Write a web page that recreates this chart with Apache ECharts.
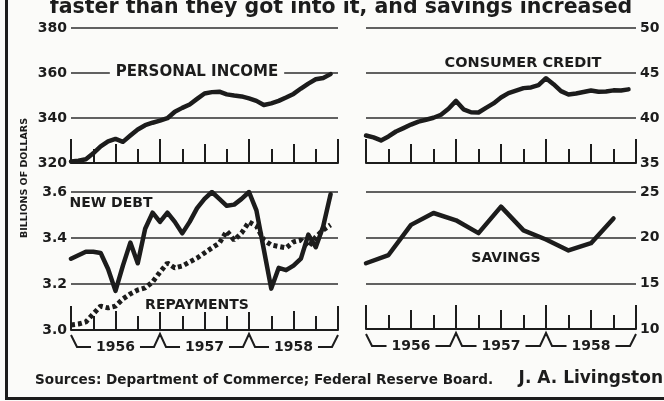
<!DOCTYPE html>
<html>
<head>
<meta charset="utf-8">
<script src="https://cdn.jsdelivr.net/npm/echarts@6/dist/echarts.min.js"></script>
<style>
  html, body { margin: 0; padding: 0; background: #fbfbf9; }
  #chart { width: 664px; height: 401px; }
</style>
</head>
<body>
<div id="chart"></div>
<script>
// monthly values, Jan 1956 .. Dec 1958 (billions of dollars)
const years = ['1956', '1957', '1958'];
const personalIncome = [320.7, 321.0, 321.7, 324.3, 327.4, 329.6, 330.7, 329.4, 332.2, 334.9, 336.8, 337.9,
  338.8, 339.9, 342.8, 344.5, 346.0, 348.5, 350.9, 351.5, 351.7, 350.5, 350.0, 349.6,
  348.7, 347.6, 345.8, 346.5, 347.6, 349.1, 350.7, 353.1, 355.3, 357.2, 357.8, 359.5];
const consumerCredit = [38.06, 37.84, 37.51, 37.95, 38.5, 38.88, 39.27, 39.6, 39.81, 40.03, 40.36, 41.02,
  41.9, 40.96, 40.64, 40.61, 41.13, 41.62, 42.28, 42.77, 43.05, 43.32, 43.4, 43.65,
  44.42, 43.76, 42.99, 42.61, 42.72, 42.88, 43.05, 42.92, 42.94, 43.07, 43.05, 43.18];
const newDebt = [3.31, 3.325, 3.34, 3.34, 3.335, 3.265, 3.17, 3.28, 3.38, 3.29, 3.44, 3.51,
  3.47, 3.51, 3.47, 3.42, 3.47, 3.53, 3.57, 3.60, 3.57, 3.54, 3.545, 3.57,
  3.60, 3.52, 3.35, 3.18, 3.27, 3.26, 3.28, 3.31, 3.415, 3.36, 3.45, 3.59];
const repayments = [3.022, 3.026, 3.035, 3.07, 3.104, 3.096, 3.104, 3.135, 3.157, 3.174, 3.183, 3.209,
  3.252, 3.291, 3.27, 3.278, 3.296, 3.313, 3.335, 3.357, 3.378, 3.43, 3.391, 3.422,
  3.47, 3.452, 3.391, 3.37, 3.363, 3.357, 3.383, 3.391, 3.361, 3.404, 3.435, 3.457];
// quarterly
const savings = [17.2, 18.1, 21.4, 22.7, 21.9, 20.5, 23.4, 20.8, 19.8, 18.6, 19.4, 22.1];

const INK = '#1c1c1c';
const BG = '#fbfbf9';
const FONT = 'DejaVu Sans';

const chart = echarts.init(document.getElementById('chart'));

const grids = [
  { left: 71, top: 28, width: 267, height: 135 },
  { left: 366, top: 28, width: 270, height: 135 },
  { left: 71, top: 192, width: 267, height: 138 },
  { left: 366, top: 192, width: 270, height: 137 }
];

// y scales per panel
const yScales = [
  { min: 320, max: 380, interval: 20, position: 'left' },
  { min: 35, max: 50, interval: 5, position: 'right' },
  { min: 3.0, max: 3.6, interval: 0.2, position: 'left', digits: 1 },
  { min: 10, max: 25, interval: 5, position: 'right' }
];

const xAxes = [];
grids.forEach((g, i) => {
  // year and quarter ticks
  xAxes.push({
    gridIndex: i, type: 'value', min: 0, max: 12, interval: 4, position: 'bottom',
    axisLine: { lineStyle: { color: INK, width: 2 } },
    axisTick: { inside: true, length: 24, lineStyle: { color: INK, width: 2 } },
    minorTick: { show: true, splitNumber: 4, length: 14, lineStyle: { color: INK, width: 2 } },
    axisLabel: { show: false },
    splitLine: { show: false }
  });
  // mid-year ticks
  xAxes.push({
    gridIndex: i, type: 'value', min: 0, max: 12, interval: 2, position: 'bottom',
    axisLine: { show: false },
    axisTick: { inside: true, length: 19, lineStyle: { color: INK, width: 2 } },
    axisLabel: { show: false },
    splitLine: { show: false }
  });
});

const yAxes = yScales.map((s, i) => ({
  gridIndex: i, type: 'value', min: s.min, max: s.max, interval: s.interval, position: s.position,
  axisLine: { show: false },
  axisTick: { show: false },
  axisLabel: {
    color: INK, fontFamily: FONT, fontWeight: 'bold', fontSize: 14, margin: 4,
    formatter: v => s.digits ? v.toFixed(s.digits) : String(v)
  },
  splitLine: { lineStyle: { color: '#2e2e2e', width: 1.5 } }
}));

const monthly = arr => arr.map((v, i) => [i / 3, v]);
const quarterly = arr => arr.map((v, i) => [i, v]);

function lineSeries(name, data, gi, extra) {
  return Object.assign({
    name: name, type: 'line', xAxisIndex: gi * 2, yAxisIndex: gi,
    data: data, symbol: 'none', silent: true,
    lineStyle: { color: INK, width: 4.5, join: 'round', cap: 'round' },
    z: 3
  }, extra || {});
}

chart.setOption({
  animation: false,
  backgroundColor: BG,
  grid: grids,
  xAxis: xAxes,
  yAxis: yAxes,
  series: [
    lineSeries('Personal income', monthly(personalIncome), 0),
    lineSeries('Consumer credit', monthly(consumerCredit), 1),
    lineSeries('Repayments', monthly(repayments), 2,
      { lineStyle: { color: INK, width: 5, type: [4, 3], cap: 'butt' }, z: 2 }),
    lineSeries('New debt', monthly(newDebt), 2),
    lineSeries('Savings', quarterly(savings), 3)
  ]
});

// labels, frame and year brackets
function label(text, x, y, size, opts) {
  return {
    type: 'text', z: 10,
    style: Object.assign({
      text: text, x: x, y: y, fill: INK,
      font: 'bold ' + size + 'px "' + FONT + '"',
      align: 'center', verticalAlign: 'middle'
    }, opts || {})
  };
}

const graphic = [
  label('faster than they got into it, and savings increased', 341, 8, 20.5),
  label('PERSONAL INCOME', 197, 72, 15, { backgroundColor: BG, padding: [0, 6] }),
  label('CONSUMER CREDIT', 523, 63, 14.5),
  label('NEW DEBT', 111, 203, 14),
  label('REPAYMENTS', 197, 305, 14, { backgroundColor: BG, padding: [0, 2] }),
  label('SAVINGS', 506, 258, 14),
  {
    type: 'text', z: 10, rotation: Math.PI / 2, x: 25, y: 178,
    style: { text: 'BILLIONS OF DOLLARS', fill: INK, font: 'bold 9.5px "' + FONT + '"', align: 'center', verticalAlign: 'middle' }
  },
  label('Sources: Department of Commerce; Federal Reserve Board.', 35, 380, 13.6, { align: 'left' }),
  label('J. A. Livingston', 663, 379, 17, { align: 'right' }),
  { type: 'line', z: 10, shape: { x1: 6.5, y1: 0, x2: 6.5, y2: 399 }, style: { stroke: INK, lineWidth: 3 } },
  { type: 'line', z: 10, shape: { x1: 5, y1: 398.5, x2: 664, y2: 398.5 }, style: { stroke: INK, lineWidth: 3 } }
];

[2, 3].forEach(gi => {
  const px = k => chart.convertToPixel({ xAxisIndex: gi * 2, yAxisIndex: gi }, [k, yScales[gi].min]);
  const y0 = px(0)[1];
  const xs = [0, 4, 8, 12].map(k => px(k)[0]);
  const low = y0 + 17;
  const pts = [[xs[0], y0 + 5], [xs[0] + 6, low]];
  [1, 2].forEach(j => {
    pts.push([xs[j] - 6, low], [xs[j], y0 + 4], [xs[j] + 6, low]);
  });
  pts.push([xs[3] - 6, low], [xs[3], y0 + 5]);
  graphic.push({
    type: 'polyline', z: 9, shape: { points: pts },
    style: { stroke: INK, lineWidth: 2, fill: null }
  });
  years.forEach((yr, j) => {
    const cx = px(j * 4 + 2)[0];
    graphic.push(label(yr, cx, low, 14, { backgroundColor: BG, padding: [0, 5] }));
  });
});

chart.setOption({ graphic: graphic });
</script>
</body>
</html>
